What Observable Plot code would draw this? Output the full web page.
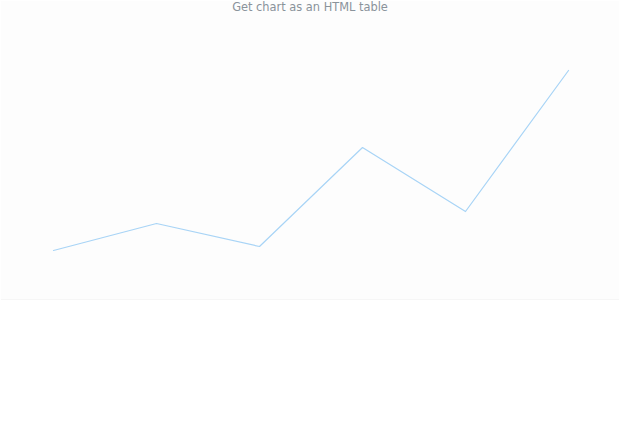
<!DOCTYPE html>
<html>
<head>
<meta charset="utf-8">
<script src="https://cdn.jsdelivr.net/npm/d3@7"></script>
<script src="https://cdn.jsdelivr.net/npm/@observablehq/plot@0.6"></script>
<style>
  body { margin: 0; background: #fff; font-family: "DejaVu Sans", sans-serif; }
  #wrap { position: relative; width: 620px; height: 445px; }
  #bg { position: absolute; left: 1px; top: 1px; width: 618px; height: 298px; background: #fdfdfd; border-bottom: 1px solid #f6f6f6; }
  #title { position: relative; height: 14px; line-height: 15px; font-size: 11.4px; color: #8a939b; text-align: center; }
  #chart { position: relative; }
</style>
</head>
<body>
<div id="wrap">
  <div id="bg"></div>
  <div id="title">Get chart as an HTML table</div>
  <div id="chart"></div>
</div>
<script>
const categories = ["P1", "P2", "P3", "P4", "P5", "P6"];
const values = [50, 77, 54, 153, 89, 230];

const data = categories.map((c, i) => ({category: c, value: values[i]}));

const plot = Plot.plot({
  width: 620,
  height: 431,
  marginTop: 56,
  marginBottom: 145,
  marginLeft: 52,
  marginRight: 52,
  style: {background: "transparent"},
  x: {type: "point", domain: categories, padding: 0, axis: null},
  y: {domain: [0, 230], axis: null},
  marks: [
    Plot.line(data, {x: "category", y: "value", stroke: "#a8d4f6", strokeWidth: 1.2})
  ]
});
document.getElementById("chart").appendChild(plot);
</script>
</body>
</html>
